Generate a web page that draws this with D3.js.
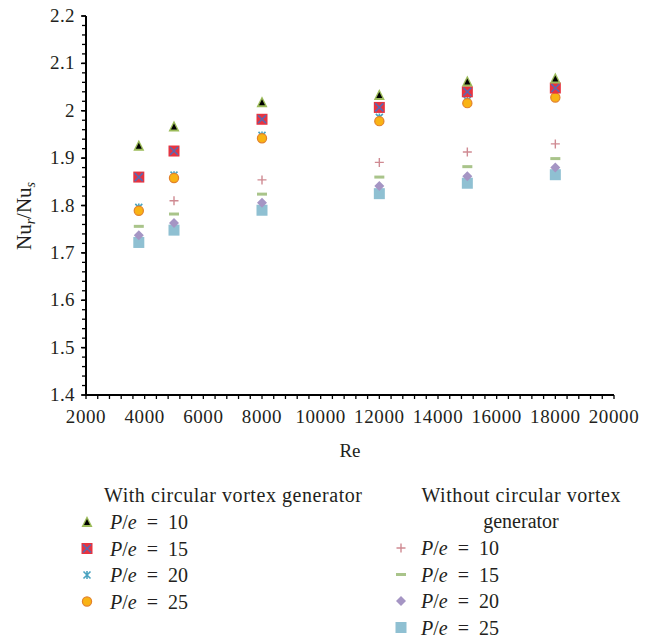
<!DOCTYPE html>
<html><head><meta charset="utf-8">
<script src="https://cdn.jsdelivr.net/npm/d3@7"></script>
<style>body{margin:0;background:#fff}svg{display:block}</style>
</head><body><svg id="c" width="650" height="642" font-family="'Liberation Serif','Times New Roman','DejaVu Serif',Times,serif"></svg>
<script>
const reValues = [3800, 5000, 8000, 12000, 15000, 18000];
const withPe10 = [1.926, 1.967, 2.018, 2.033, 2.062, 2.068];
const withPe15 = [1.860, 1.915, 1.982, 2.007, 2.040, 2.048];
const withPe20 = [1.796, 1.864, 1.948, 1.986, 2.022, 2.034];
const withPe25 = [1.789, 1.858, 1.942, 1.978, 2.016, 2.028];
const withoutPe10 = [1.790, 1.810, 1.854, 1.891, 1.913, 1.930];
const withoutPe15 = [1.756, 1.782, 1.824, 1.860, 1.882, 1.899];
const withoutPe20 = [1.737, 1.763, 1.806, 1.841, 1.862, 1.880];
const withoutPe25 = [1.722, 1.748, 1.790, 1.825, 1.847, 1.865];
const xTicks = [2000,4000,6000,8000,10000,12000,14000,16000,18000,20000];
const yTicks = [1.4,1.5,1.6,1.7,1.8,1.9,2,2.1,2.2];
const peLabels = ["10","15","20","25"];

const svg = d3.select("#c");
const FONT = "'Liberation Serif','Times New Roman','DejaVu Serif',Times,serif";
const INK = "#231f20";
const x = d3.scaleLinear().domain([2000,20000]).range([86,614]);
const y = d3.scaleLinear().domain([1.4,2.2]).range([395,16]);

const gx = svg.append("g");
gx.selectAll("line.mx").data(d3.range(2000,20001,400)).join("line")
  .attr("x1",d=>x(d)).attr("x2",d=>x(d)).attr("y1",y(1.4)).attr("y2",y(1.4)+4)
  .attr("stroke","#000").attr("stroke-width",1.3);
gx.selectAll("line.my").data(d3.range(0,41).map(i=>1.4+i*0.02)).join("line")
  .attr("x1",x(2000)-4).attr("x2",x(2000)).attr("y1",d=>y(d)).attr("y2",d=>y(d))
  .attr("stroke","#000").attr("stroke-width",1.3);
gx.selectAll("line.My").data(yTicks).join("line")
  .attr("x1",x(2000)-5).attr("x2",x(2000)).attr("y1",d=>y(d)).attr("y2",d=>y(d))
  .attr("stroke","#000").attr("stroke-width",1.5);
gx.append("line").attr("x1",x(2000)).attr("x2",x(20000)).attr("y1",y(1.4)).attr("y2",y(1.4)).attr("stroke","#000").attr("stroke-width",2);
gx.append("line").attr("x1",x(2000)).attr("x2",x(2000)).attr("y1",y(1.4)+1).attr("y2",y(2.2)).attr("stroke","#000").attr("stroke-width",2);

gx.selectAll("text.xt").data(xTicks).join("text")
  .attr("x",d=>x(d)).attr("y",y(1.4)+28).attr("text-anchor","middle")
  .attr("font-family",FONT).attr("font-size",19).attr("letter-spacing",0.6).attr("fill",INK).text(d=>d);
gx.selectAll("text.yt").data(yTicks).join("text")
  .attr("x",x(2000)-11).attr("y",d=>y(d)+6).attr("text-anchor","end")
  .attr("font-family",FONT).attr("font-size",19).attr("letter-spacing",0.4).attr("fill",INK).text(d=>d===2?"2":d3.format(".1f")(d));

svg.append("text").attr("x",350).attr("y",457).attr("text-anchor","middle").attr("font-family",FONT).attr("font-size",19).attr("fill",INK).text("Re");
const yl = svg.append("text").attr("transform","translate(31,216) rotate(-90)").attr("text-anchor","middle").attr("font-family",FONT).attr("font-size",21).attr("fill",INK);
yl.append("tspan").text("Nu");
yl.append("tspan").attr("font-style","italic").attr("font-size",14).attr("dy",4).text("r");
yl.append("tspan").attr("dy",-4).text("/Nu");
yl.append("tspan").attr("font-size",14).attr("font-style","italic").attr("dy",4).text("s");

function tri(g,cx,cy){
  g.append("path").attr("d",`M${cx},${cy-6}L${cx+5.5},${cy+5}L${cx-5.5},${cy+5}Z`).attr("fill","#9bbb59");
  g.append("path").attr("d",`M${cx},${cy-3}L${cx+3},${cy+3}L${cx-3},${cy+3}Z`).attr("fill","#000");
}
function sqx(g,cx,cy){
  g.append("rect").attr("x",cx-5.5).attr("y",cy-5.5).attr("width",11).attr("height",11).attr("fill","#e8333f");
  g.append("path").attr("d",`M${cx-4},${cy-4}L${cx+4},${cy+4}M${cx+4},${cy-4}L${cx-4},${cy+4}`).attr("stroke","#5a68b0").attr("stroke-width",1.6);
}
function star(g,cx,cy){
  g.append("path").attr("d",`M${cx-3.5},${cy-3.5}L${cx+3.5},${cy+3.5}M${cx+3.5},${cy-3.5}L${cx-3.5},${cy+3.5}M${cx},${cy-4}L${cx},${cy+4}`).attr("stroke","#4aa3c0").attr("stroke-width",1.6);
}
function circ(g,cx,cy){
  g.append("circle").attr("cx",cx).attr("cy",cy).attr("r",4.6).attr("fill","#f9b314").attr("stroke","#e2822a").attr("stroke-width",1.2);
}
function plus(g,cx,cy){
  g.append("path").attr("d",`M${cx-4.5},${cy}L${cx+4.5},${cy}M${cx},${cy-4.5}L${cx},${cy+4.5}`).attr("stroke","#cf8a92").attr("stroke-width",1.4);
}
function dash(g,cx,cy){
  g.append("rect").attr("x",cx-5).attr("y",cy-1.5).attr("width",10).attr("height",3).attr("fill","#a9c48a");
}
function diam(g,cx,cy){
  g.append("path").attr("d",`M${cx},${cy-5}L${cx+5},${cy}L${cx},${cy+5}L${cx-5},${cy}Z`).attr("fill","#a595c4");
}
function bsq(g,cx,cy){
  g.append("rect").attr("x",cx-5.5).attr("y",cy-5.5).attr("width",11).attr("height",11).attr("fill","#8fc0d2");
}

const series = [
  {vals:withoutPe25, f:bsq},
  {vals:withoutPe20, f:diam},
  {vals:withoutPe15, f:dash},
  {vals:withoutPe10, f:plus},
  {vals:withPe20, f:star},
  {vals:withPe25, f:circ},
  {vals:withPe15, f:sqx},
  {vals:withPe10, f:tri}
];
const pts = svg.append("g");
series.forEach(s=>{ reValues.forEach((r,i)=>s.f(pts,x(r),y(s.vals[i]))); });

const lg = svg.append("g");
function txt(xx,yy,anchor,s,len){
  return lg.append("text").attr("x",xx).attr("y",yy).attr("text-anchor",anchor).attr("font-family",FONT).attr("font-size",20)
    .attr("textLength",len).attr("lengthAdjust","spacing").attr("fill",INK).text(s);
}
txt(104,502,"start","With circular vortex generator",258);
txt(521,502,"middle","Without circular vortex",199);
txt(521,528,"middle","generator");
function item(f,mx,tx,cy,lab){
  f(lg,mx,cy);
  const t = lg.append("text").attr("x",tx).attr("y",cy+7).attr("font-family",FONT).attr("font-size",20).attr("fill",INK);
  t.append("tspan").attr("font-style","italic").text("P");
  t.append("tspan").text("/");
  t.append("tspan").attr("font-style","italic").text("e");
  t.append("tspan").text("\u2002=\u2002"+lab);
}
const leftF=[tri,sqx,star,circ], rightF=[plus,dash,diam,bsq];
peLabels.forEach((l,i)=>item(leftF[i],87,110,522+i*26.5,l));
peLabels.forEach((l,i)=>item(rightF[i],401,421,548+i*26.5,l));
</script></body></html>
